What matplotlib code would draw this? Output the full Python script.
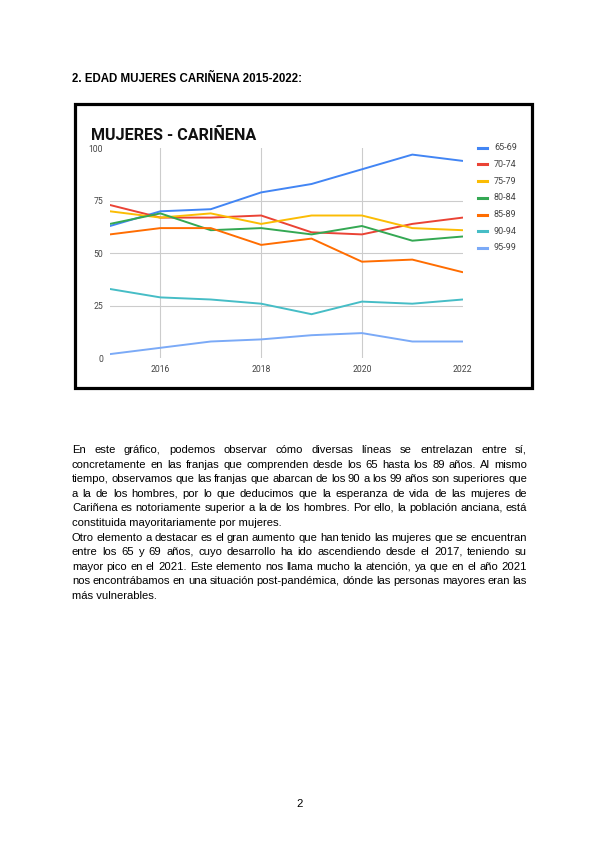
import math
import matplotlib
matplotlib.use("Agg")
import matplotlib.pyplot as plt
from matplotlib.patches import Rectangle
from matplotlib.lines import Line2D
from matplotlib.font_manager import FontProperties
from matplotlib.backends.backend_agg import get_hinting_flag

W, H = 600, 848

years = [2015, 2016, 2017, 2018, 2019, 2020, 2021, 2022]
age_groups = ['65-69', '70-74', '75-79', '80-84', '85-89', '90-94', '95-99']
v_65_69 = [63, 70, 71, 79, 83, 90, 97, 94]
v_70_74 = [73, 67, 67, 68, 60, 59, 64, 67]
v_75_79 = [70, 67, 69, 64, 68, 68, 62, 61]
v_80_84 = [64, 69, 61, 62, 59, 63, 56, 58]
v_85_89 = [59, 62, 62, 54, 57, 46, 47, 41]
v_90_94 = [33, 29, 28, 26, 21, 27, 26, 28]
v_95_99 = [2, 5, 8, 9, 11, 12, 8, 8]
series = [v_65_69, v_70_74, v_75_79, v_80_84, v_85_89, v_90_94, v_95_99]
colors = ['#4285F4', '#EA4335', '#FBBC04', '#34A853', '#FF6D01', '#46BDC6', '#7BAAF7']
x_ticks = [2016, 2018, 2020, 2022]
y_ticks = [0, 25, 50, 75, 100]

heading = "2. EDAD MUJERES CARIÑENA 2015-2022:"
chart_title = "MUJERES - CARIÑENA"
body_lines = [
    "En este gráfico, podemos observar cómo diversas líneas se entrelazan entre sí,",
    "concretamente en las franjas que comprenden desde los 65 hasta los 89 años. Al mismo",
    "tiempo, observamos que las franjas que abarcan de los 90 a los 99 años son superiores que",
    "a la de los hombres, por lo que deducimos que la esperanza de vida de las mujeres de",
    "Cariñena es notoriamente superior a la de los hombres. Por ello, la población anciana, está",
    "constituida mayoritariamente por mujeres.",
    "Otro elemento a destacar es el gran aumento que han tenido las mujeres que se encuentran",
    "entre los 65 y 69 años, cuyo desarrollo ha ido ascendiendo desde el 2017, teniendo su",
    "mayor pico en el 2021. Este elemento nos llama mucho la atención, ya que en el año 2021",
    "nos encontrábamos en una situación post-pandémica, dónde las personas mayores eran las",
    "más vulnerables.",
]
paragraph_ends = {5, 10}
page_number = "2"


def fx(x):
    return x / W


def fy(y):
    return 1 - y / H


fig = plt.figure(figsize=(W / 100, H / 100), dpi=100)
fig.patch.set_facecolor('white')
renderer = fig.canvas.get_renderer()
body_font = FontProperties(family='Liberation Sans', size=8.1)


def baseline_fix(word):
    # Agg rounds each text bitmap by its own descent, so words on one line
    # can land a pixel apart; work out the offset that keeps them level
    try:
        font = renderer._prepare_font(body_font)
        font.set_text(word, 0, flags=get_hinting_flag())
        _, h = font.get_width_height()
        d = font.get_descent() / 64.0
        a = h / 64.0 - d
        return (h // 64) - math.floor(a) - d
    except Exception:
        return 0.0


# heading of the page
fig.text(fx(72), fy(82.5), heading, fontsize=8.3, fontweight='bold',
         family='Liberation Sans', va='baseline', ha='left')

# chart frame
fig.add_artist(Rectangle((fx(74.5), fy(387.5)), fx(532) - fx(74.5), fy(104) - fy(387.5),
                         transform=fig.transFigure, fill=False, edgecolor='black', linewidth=2.3))
fig.text(fx(90.5), fy(140), chart_title, fontsize=11.6, fontweight='bold',
         family='Roboto', va='baseline', ha='left', color='#111111')

ax = fig.add_axes([fx(110), fy(358.3), (462.7 - 110) / W, (358.3 - 148.3) / H])
for vals, col in zip(series, colors):
    ax.plot(years, vals, color=col, linewidth=1.4, solid_capstyle='round')
ax.set_xlim(2015, 2022)
ax.set_ylim(0, 100)
ax.set_xticks(x_ticks)
ax.set_yticks(y_ticks)
ax.set_xticklabels([str(t) for t in x_ticks], fontsize=6.2, family='Roboto', color='#444444')
ax.set_yticklabels([str(t) for t in y_ticks], fontsize=6.2, family='Roboto', color='#444444')
ax.tick_params(length=0, pad=5)
for s in ax.spines.values():
    s.set_visible(False)
for t in [25, 50, 75]:
    ax.axhline(t, color='#cccccc', linewidth=0.8, zorder=0)
for t in [2016, 2018, 2020]:
    ax.axvline(t, color='#cccccc', linewidth=0.8, zorder=0)

# legend
for i, (lab, col) in enumerate(zip(age_groups, colors)):
    yy = 147.7 + i * 16.7
    fig.add_artist(Line2D([fx(478), fx(487)], [fy(yy), fy(yy)], color=col,
                          linewidth=2.2, transform=fig.transFigure))
    fig.text(fx(494), fy(yy), lab, fontsize=6.5, family='Roboto', color='#444444',
             va='center', ha='left')

# body text, justified word by word
left, right = 72, 527
base0, step = 453, 14.6
for i, line in enumerate(body_lines):
    base = round(base0 + i * step)
    if i in paragraph_ends:
        fig.text(fx(left), fy(base + baseline_fix(line)), line, fontproperties=body_font,
                 va='baseline', ha='left')
        continue
    words = line.split(' ')
    arts = [fig.text(0, fy(base + baseline_fix(w)), w, fontproperties=body_font,
                     va='baseline', ha='left') for w in words]
    widths = [a.get_window_extent(renderer).width for a in arts]
    gap = (right - left - sum(widths)) / (len(words) - 1)
    x = left
    for a, wd in zip(arts, widths):
        a.set_x(fx(x))
        x += wd + gap

fig.text(fx(300), fy(807), page_number, fontproperties=body_font, va='baseline', ha='center')

fig.savefig('out.png', dpi=100)
